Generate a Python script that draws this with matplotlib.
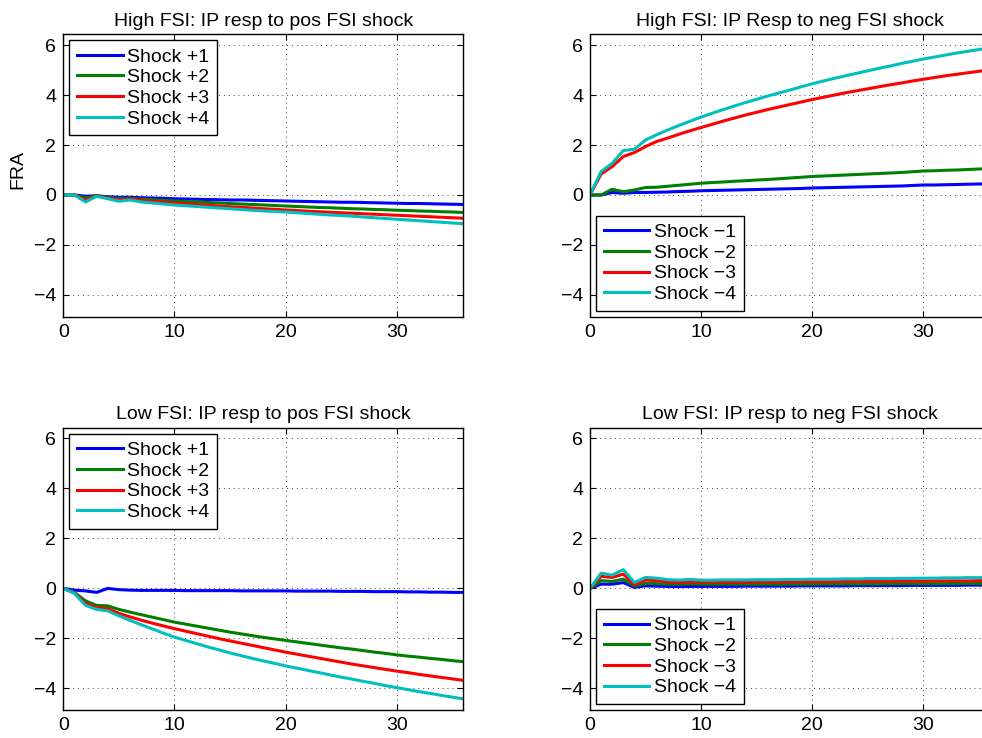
import matplotlib
matplotlib.use("Agg")
import matplotlib.pyplot as plt
import numpy as np

plt.rcParams['font.family'] = ['Liberation Sans', 'DejaVu Sans']
plt.rcParams['axes.unicode_minus'] = True

horizon = list(range(37))

titles = ["High FSI: IP resp to pos FSI shock", "High FSI: IP Resp to neg FSI shock",
          "Low FSI: IP resp to pos FSI shock", "Low FSI: IP resp to neg FSI shock"]
pos_labels = ["Shock +1", "Shock +2", "Shock +3", "Shock +4"]
neg_labels = ["Shock \u22121", "Shock \u22122", "Shock \u22123", "Shock \u22124"]
xticks = [0, 10, 20, 30]
yticks = [-4, -2, 0, 2, 4, 6]
ylabel = "FRA"

# High FSI, positive shock
hp1 = [0, 0, -0.05, -0.03, -0.07, -0.09, -0.09, -0.11, -0.12, -0.13, -0.15, -0.16, -0.17, -0.18, -0.19, -0.20,
       -0.20, -0.21, -0.22, -0.23, -0.24, -0.25, -0.26, -0.27, -0.28, -0.29, -0.29, -0.30, -0.31, -0.32, -0.33,
       -0.34, -0.34, -0.35, -0.36, -0.37, -0.38]
hp2 = [0, 0, -0.12, -0.03, -0.10, -0.15, -0.13, -0.17, -0.19, -0.21, -0.24, -0.26, -0.28, -0.30, -0.32, -0.34,
       -0.36, -0.38, -0.40, -0.42, -0.44, -0.46, -0.48, -0.50, -0.51, -0.53, -0.55, -0.56, -0.58, -0.59, -0.61,
       -0.62, -0.64, -0.65, -0.67, -0.68, -0.70]
hp3 = [0, 0, -0.20, -0.04, -0.12, -0.20, -0.16, -0.22, -0.25, -0.28, -0.32, -0.35, -0.38, -0.41, -0.44, -0.47,
       -0.49, -0.52, -0.55, -0.57, -0.60, -0.62, -0.65, -0.67, -0.69, -0.71, -0.73, -0.75, -0.77, -0.79, -0.81,
       -0.83, -0.85, -0.87, -0.89, -0.91, -0.93]
hp4 = [0, 0, -0.28, -0.05, -0.15, -0.25, -0.20, -0.28, -0.32, -0.36, -0.40, -0.43, -0.46, -0.49, -0.52, -0.55,
       -0.58, -0.61, -0.64, -0.66, -0.68, -0.71, -0.74, -0.77, -0.80, -0.82, -0.85, -0.88, -0.91, -0.94, -0.97,
       -1.00, -1.03, -1.06, -1.09, -1.12, -1.15]

# High FSI, negative shock
hn1 = [0, 0, 0.10, 0.07, 0.10, 0.10, 0.11, 0.12, 0.14, 0.15, 0.17, 0.18, 0.19, 0.20, 0.21, 0.22, 0.23, 0.24,
       0.25, 0.26, 0.28, 0.29, 0.30, 0.31, 0.32, 0.33, 0.34, 0.35, 0.36, 0.38, 0.40, 0.40, 0.41, 0.42, 0.43,
       0.44, 0.45]
hn2 = [0, 0, 0.23, 0.13, 0.20, 0.30, 0.31, 0.35, 0.39, 0.43, 0.47, 0.50, 0.52, 0.55, 0.57, 0.60, 0.62, 0.65,
       0.68, 0.71, 0.74, 0.76, 0.78, 0.80, 0.82, 0.84, 0.86, 0.88, 0.90, 0.93, 0.96, 0.97, 0.99, 1.00, 1.02,
       1.04, 1.06]
hn3 = [0, 0.84, 1.14, 1.54, 1.70, 1.94, 2.14, 2.28, 2.43, 2.57, 2.70, 2.83, 2.96, 3.08, 3.20, 3.31, 3.42, 3.52,
       3.62, 3.72, 3.82, 3.91, 4.00, 4.09, 4.17, 4.25, 4.33, 4.41, 4.48, 4.56, 4.63, 4.70, 4.77, 4.83, 4.89,
       4.95, 5.01]
hn4 = [0, 0.94, 1.27, 1.78, 1.83, 2.20, 2.41, 2.60, 2.78, 2.95, 3.12, 3.27, 3.42, 3.56, 3.70, 3.83, 3.96, 4.08,
       4.20, 4.33, 4.45, 4.56, 4.67, 4.77, 4.87, 4.97, 5.07, 5.16, 5.26, 5.35, 5.44, 5.52, 5.60, 5.68, 5.75,
       5.82, 5.88]

# Low FSI, positive shock
lp1 = [0, -0.07, -0.10, -0.16, 0.00, -0.05, -0.07, -0.08, -0.08, -0.08, -0.08, -0.09, -0.09, -0.09, -0.09,
       -0.09, -0.10, -0.10, -0.10, -0.10, -0.10, -0.11, -0.11, -0.11, -0.11, -0.12, -0.12, -0.12, -0.13, -0.13,
       -0.13, -0.14, -0.14, -0.15, -0.15, -0.16, -0.16]
lp2 = [0, -0.16, -0.50, -0.68, -0.70, -0.84, -0.95, -1.05, -1.15, -1.25, -1.35, -1.43, -1.51, -1.59, -1.67,
       -1.75, -1.82, -1.89, -1.96, -2.02, -2.08, -2.14, -2.20, -2.26, -2.32, -2.38, -2.43, -2.49, -2.55, -2.60,
       -2.66, -2.71, -2.75, -2.80, -2.84, -2.89, -2.93]
lp3 = [0, -0.18, -0.60, -0.77, -0.81, -1.00, -1.14, -1.27, -1.39, -1.50, -1.61, -1.71, -1.81, -1.91, -2.01,
       -2.10, -2.19, -2.28, -2.37, -2.46, -2.55, -2.63, -2.71, -2.79, -2.87, -2.95, -3.03, -3.10, -3.17, -3.24,
       -3.31, -3.37, -3.44, -3.50, -3.56, -3.62, -3.68]
lp4 = [0, -0.20, -0.68, -0.84, -0.90, -1.10, -1.28, -1.45, -1.62, -1.79, -1.95, -2.08, -2.21, -2.34, -2.46,
       -2.58, -2.69, -2.80, -2.90, -3.00, -3.10, -3.19, -3.28, -3.37, -3.46, -3.55, -3.63, -3.72, -3.80, -3.89,
       -3.97, -4.05, -4.13, -4.20, -4.28, -4.35, -4.42]

# Low FSI, negative shock
ln1 = [0, 0.17, 0.17, 0.23, 0.04, 0.10, 0.09, 0.08, 0.07, 0.08, 0.08, 0.08, 0.08, 0.08, 0.09, 0.09, 0.09, 0.09,
       0.09, 0.10, 0.10, 0.10, 0.10, 0.10, 0.11, 0.11, 0.11, 0.11, 0.11, 0.12, 0.12, 0.12, 0.12, 0.12, 0.13,
       0.13, 0.13]
ln2 = [0, 0.31, 0.28, 0.37, 0.10, 0.20, 0.19, 0.17, 0.17, 0.18, 0.17, 0.17, 0.17, 0.17, 0.17, 0.17, 0.17, 0.17,
       0.17, 0.17, 0.17, 0.18, 0.18, 0.18, 0.18, 0.18, 0.18, 0.19, 0.19, 0.19, 0.19, 0.19, 0.19, 0.20, 0.20,
       0.20, 0.20]
ln3 = [0, 0.48, 0.44, 0.57, 0.15, 0.33, 0.31, 0.26, 0.24, 0.26, 0.25, 0.25, 0.25, 0.25, 0.25, 0.26, 0.26, 0.26,
       0.26, 0.27, 0.27, 0.27, 0.27, 0.28, 0.28, 0.28, 0.28, 0.29, 0.29, 0.29, 0.29, 0.30, 0.30, 0.30, 0.30,
       0.31, 0.31]
ln4 = [0, 0.61, 0.53, 0.75, 0.24, 0.44, 0.41, 0.35, 0.33, 0.36, 0.33, 0.33, 0.34, 0.34, 0.34, 0.35, 0.35, 0.35,
       0.36, 0.36, 0.37, 0.37, 0.37, 0.38, 0.38, 0.39, 0.39, 0.39, 0.40, 0.40, 0.41, 0.41, 0.42, 0.42, 0.43,
       0.43, 0.44]

colors = [(0, 0, 1), (0, 0.5, 0), (1, 0, 0), (0, 0.75, 0.75)]

panels = [
    ([hp1, hp2, hp3, hp4], pos_labels, 'upper left'),
    ([hn1, hn2, hn3, hn4], neg_labels, 'lower left'),
    ([lp1, lp2, lp3, lp4], pos_labels, 'upper left'),
    ([ln1, ln2, ln3, ln4], neg_labels, 'lower left'),
]

FS = 14
W, H = 982, 738
fig = plt.figure(figsize=(W / 100, H / 100), dpi=100)
lefts = [63.3, 590.0]
tops = [34.3, 427.7]
aw, ah = 400.0, 282.4

for i, (series, labels, loc) in enumerate(panels):
    r, c = divmod(i, 2)
    l = lefts[c] / W
    b = (H - tops[r] - ah) / H
    ax = fig.add_axes([l, b, aw / W, ah / H])
    for s, lab, col in zip(series, labels, colors):
        ax.plot(horizon, s, color=col, lw=2.2, label=lab)
    ax.set_xlim(0, 36)
    ax.set_ylim(-4.87, 6.43)
    ax.set_xticks(xticks)
    ax.set_yticks(yticks)
    ax.grid(True, linestyle=(0, (1, 4)), color='#404040', linewidth=0.7)
    ax.tick_params(direction='in', top=True, right=True, labelsize=FS, length=4, width=0.8, pad=5)
    for sp in ax.spines.values():
        sp.set_linewidth(1.0)
    ax.set_title(titles[i], fontsize=FS, pad=6)
    if i == 0:
        ax.set_ylabel(ylabel, fontsize=FS)
        ax.yaxis.set_label_coords(-0.092, 0.52)
    leg = ax.legend(loc=loc, fontsize=FS, handlelength=2.35, handletextpad=0.25,
                    labelspacing=0.16, borderpad=0.4, borderaxespad=0.3,
                    fancybox=False, framealpha=1, edgecolor='black')
    leg.get_frame().set_linewidth(1.0)

fig.savefig("out.png", dpi=100)
